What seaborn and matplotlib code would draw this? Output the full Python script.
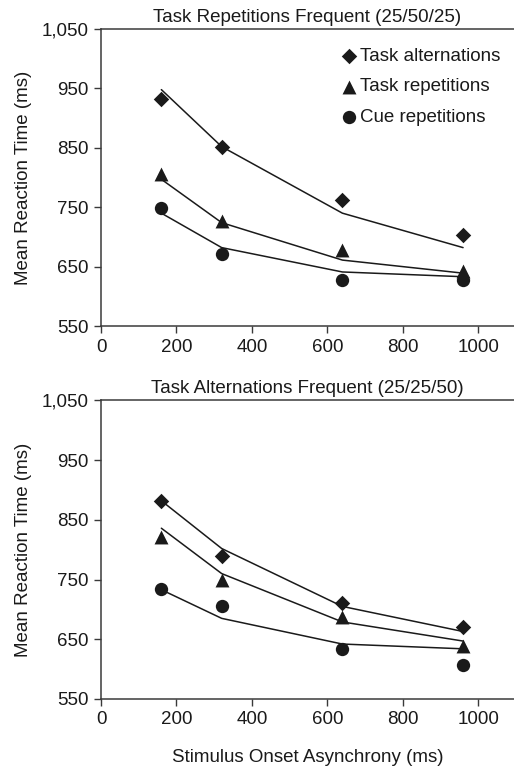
import pandas as pd
import seaborn as sns
import matplotlib.pyplot as plt
from matplotlib.ticker import FuncFormatter

# Stimulus onset asynchrony (ms)
soa = [160, 320, 640, 960]
conditions = ['Task alternations', 'Task repetitions', 'Cue repetitions']

# Task repetitions frequent (25/50/25): observed means
top_alt_obs = [933, 852, 762, 704]
top_rep_obs = [806, 726, 678, 643]
top_cue_obs = [748, 671, 627, 627]
# model fits
top_alt_fit = [948, 852, 740, 682]
top_rep_fit = [797, 724, 661, 639]
top_cue_fit = [740, 682, 641, 633]

# Task alternations frequent (25/25/50): observed means
bot_alt_obs = [882, 790, 710, 670]
bot_rep_obs = [822, 750, 688, 639]
bot_cue_obs = [735, 706, 634, 607]
# model fits
bot_alt_fit = [882, 802, 705, 663]
bot_rep_fit = [836, 760, 679, 647]
bot_cue_fit = [733, 685, 642, 634]

titles = ['Task Repetitions Frequent (25/50/25)',
          'Task Alternations Frequent (25/25/50)']

sns.set_style('white')
plt.rcParams['font.family'] = ['Liberation Sans', 'DejaVu Sans']
plt.rcParams['font.size'] = 13.5

ink = '#1a1a1a'
spine = '#3a3a3a'
fs = 13.5
markers = {'Task alternations': 'D', 'Task repetitions': '^', 'Cue repetitions': 'o'}
sizes = {'Task alternations': 62, 'Task repetitions': 100, 'Cue repetitions': 92}


def make_df(obs, fit):
    rows = []
    for cond, o, f in zip(conditions, obs, fit):
        for x, oy, fy in zip(soa, o, f):
            rows.append({'soa': x, 'cond': cond, 'obs': oy, 'fit': fy})
    return pd.DataFrame(rows)


panels = [
    make_df([top_alt_obs, top_rep_obs, top_cue_obs], [top_alt_fit, top_rep_fit, top_cue_fit]),
    make_df([bot_alt_obs, bot_rep_obs, bot_cue_obs], [bot_alt_fit, bot_rep_fit, bot_cue_fit]),
]

fig = plt.figure(figsize=(5.14, 7.72), dpi=100)
ax_top = fig.add_axes([0.1965, 0.5777, 0.8035, 0.3847])
ax_bot = fig.add_axes([0.1965, 0.0946, 0.8035, 0.3867])

for i, (ax, df) in enumerate(zip([ax_top, ax_bot], panels)):
    # fitted lines
    for cond in conditions:
        sub = df[df['cond'] == cond]
        sns.lineplot(data=sub, x='soa', y='fit', ax=ax, color=ink, linewidth=1.1,
                     legend=False)
    # observed points
    for cond in conditions:
        sub = df[df['cond'] == cond]
        sns.scatterplot(data=sub, x='soa', y='obs', ax=ax, marker=markers[cond],
                        s=sizes[cond], color=ink, edgecolor=ink, linewidth=0,
                        label=cond, zorder=3)

    ax.set_xlim(0, 1095)
    ax.set_ylim(550, 1050)
    ax.set_xticks([0, 200, 400, 600, 800, 1000])
    ax.set_yticks([550, 650, 750, 850, 950, 1050])
    ax.yaxis.set_major_formatter(FuncFormatter(lambda v, p: f'{int(v):,}'))
    ax.tick_params(axis='both', direction='out', length=5, width=1, color=spine,
                   labelsize=fs, labelcolor=ink, bottom=True, left=True, pad=4)
    for side in ['left', 'bottom', 'top']:
        ax.spines[side].set_color(spine)
        ax.spines[side].set_linewidth(1.1)
    ax.spines['right'].set_visible(False)
    ax.set_title(titles[i], fontsize=fs, color=ink, pad=5)
    ax.set_ylabel('Mean Reaction Time (ms)', fontsize=fs, color=ink, labelpad=7)
    ax.set_xlabel('')

    if i == 0:
        ax.legend(loc='upper right', bbox_to_anchor=(0.995, 0.975), frameon=False,
                  handletextpad=0.0, labelspacing=0.72, borderaxespad=0.2,
                  fontsize=fs, handlelength=1.2, labelcolor=ink)
    else:
        ax.get_legend().remove()

ax_bot.set_xlabel('Stimulus Onset Asynchrony (ms)', fontsize=fs, color=ink, labelpad=15)

fig.savefig('out.png', dpi=100)
